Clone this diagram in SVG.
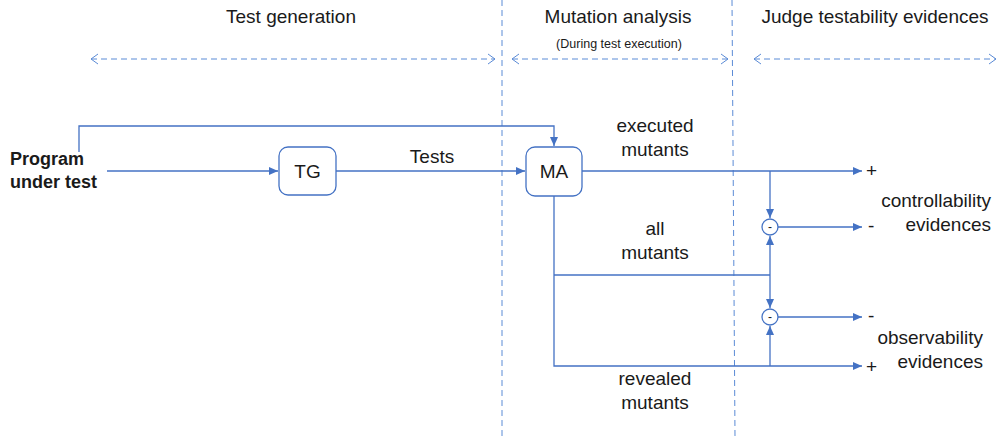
<svg xmlns="http://www.w3.org/2000/svg" width="1000" height="437" viewBox="0 0 1000 437">
<style>
text{font-family:"Liberation Sans",Arial,sans-serif;font-size:19px;fill:#1a1a1a}
.c{text-anchor:middle}
.e{text-anchor:end}
.b{font-weight:bold;font-size:18px}
.ln{fill:none;stroke:#4472C4;stroke-width:1.3}
.dash{fill:none;stroke:#5B8BD6;stroke-width:1;stroke-dasharray:6,4}
.box{fill:#fff;stroke:#4472C4;stroke-width:1.3}
</style>
<defs>
<marker id="ah" markerWidth="10" markerHeight="8" refX="9" refY="4" orient="auto" markerUnits="userSpaceOnUse">
<path d="M0,0 L9,4 L0,8 Z" fill="#4472C4"/>
</marker>
<marker id="oh" markerWidth="10" markerHeight="12" refX="8" refY="6" orient="auto-start-reverse" markerUnits="userSpaceOnUse">
<path d="M1,1 L8,6 L1,11" fill="none" stroke="#5B8BD6" stroke-width="1"/>
</marker>
</defs>

<g id="headers">
<text class="c" x="291" y="23">Test generation</text>
<text class="c" x="618" y="23">Mutation analysis</text>
<text class="c" x="619" y="48" style="font-size:12.5px">(During test execution)</text>
<text class="c" x="875" y="23">Judge testability evidences</text>
</g>

<g id="phases">
<line class="dash" x1="502" y1="0" x2="502" y2="437"/>
<line class="dash" x1="732" y1="0" x2="735" y2="437"/>
<line class="dash" x1="91" y1="59" x2="495" y2="59" marker-start="url(#oh)" marker-end="url(#oh)"/>
<line class="dash" x1="512" y1="59" x2="728" y2="59" marker-start="url(#oh)" marker-end="url(#oh)"/>
<line class="dash" x1="754" y1="59" x2="996" y2="59" marker-start="url(#oh)" marker-end="url(#oh)"/>
</g>

<g id="connectors">
<polyline class="ln" points="79,152 79,126 554,126 554,146" marker-end="url(#ah)"/>
<line class="ln" x1="107" y1="171" x2="278" y2="171" marker-end="url(#ah)"/>
<line class="ln" x1="336" y1="171" x2="525" y2="171" marker-end="url(#ah)"/>
<line class="ln" x1="582" y1="171" x2="862" y2="171" marker-end="url(#ah)"/>
<line class="ln" x1="770" y1="171" x2="770" y2="218" marker-end="url(#ah)"/>
<line class="ln" x1="778" y1="227" x2="862" y2="227" marker-end="url(#ah)"/>
<polyline class="ln" points="554,196 554,366 862,366" marker-end="url(#ah)"/>
<line class="ln" x1="554" y1="275" x2="770" y2="275"/>
<line class="ln" x1="770" y1="275" x2="770" y2="236" marker-end="url(#ah)"/>
<line class="ln" x1="770" y1="275" x2="770" y2="308" marker-end="url(#ah)"/>
<line class="ln" x1="770" y1="366" x2="770" y2="326" marker-end="url(#ah)"/>
<line class="ln" x1="778" y1="317" x2="862" y2="317" marker-end="url(#ah)"/>
</g>

<g id="put">
<text class="b" x="10" y="165">Program</text>
<text class="b" x="10" y="188">under test</text>
</g>

<g id="TG">
<rect class="box" x="279" y="147" width="57" height="48" rx="9"/>
<text class="c" x="307.5" y="178">TG</text>
</g>

<g id="MA">
<rect class="box" x="526" y="147" width="56" height="49" rx="9"/>
<text class="c" x="554" y="178">MA</text>
</g>

<g id="sub1">
<circle class="box" cx="770" cy="227" r="8"/>
<text class="c" x="770" y="231" style="font-size:12px">-</text>
</g>
<g id="sub2">
<circle class="box" cx="770" cy="317" r="8"/>
<text class="c" x="770" y="321" style="font-size:12px">-</text>
</g>

<g id="labels">
<text class="c" x="432" y="163">Tests</text>
<text class="c" x="655" y="132">executed</text>
<text class="c" x="655" y="156">mutants</text>
<text class="c" x="655" y="235">all</text>
<text class="c" x="655" y="259">mutants</text>
<text class="c" x="655" y="385">revealed</text>
<text class="c" x="655" y="409">mutants</text>
<text x="866" y="177">+</text>
<text x="868" y="232">-</text>
<text x="868" y="322">-</text>
<text x="866" y="373">+</text>
<text class="e" x="991" y="207">controllability</text>
<text class="e" x="991" y="231">evidences</text>
<text class="e" x="983" y="344">observability</text>
<text class="e" x="983" y="368">evidences</text>
</g>
</svg>
